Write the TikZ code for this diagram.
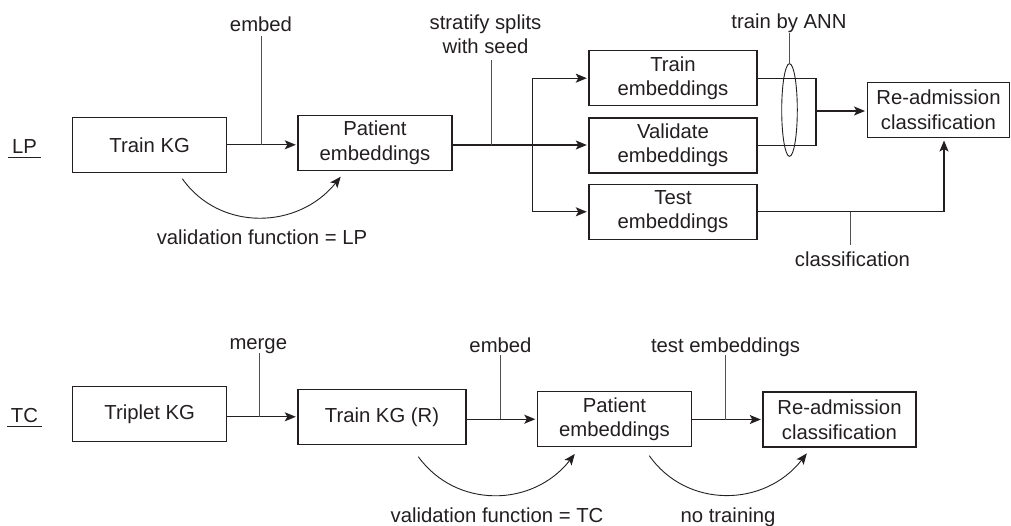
\documentclass[tikz,border=0pt]{standalone}
\usepackage{fontspec}
\setmainfont{Liberation Sans}
\usetikzlibrary{arrows.meta,calc,shapes.geometric}
\definecolor{ink}{HTML}{231F20}
\definecolor{leadc}{HTML}{505050}
\begin{document}
\begin{tikzpicture}[x=1pt,y=-1pt,
  every node/.style={font=\fontsize{20.3}{24.5}\selectfont, text=ink, inner sep=0pt},
  box/.style={draw=ink, line width=1.4pt, minimum height=55pt, align=center},
  arr/.style={draw=ink, line width=1.2pt, -{Stealth[length=11pt,width=9pt,inset=2.5pt]}, shorten >=1.5pt},
  conn/.style={draw=ink, line width=1.2pt},
  lead/.style={draw=leadc, line width=0.9pt},
  curv/.style={draw=ink, line width=0.9pt, -{Stealth[length=11pt,width=9pt,inset=2.5pt]}},
  lbl/.style={anchor=base},
  uline/.style={draw=ink, line width=1pt},
]
\useasboundingbox (0,0) rectangle (1011,526);

% ---------- LP row ----------
\node[lbl, inner xsep=3.5pt] (lp) at (24.5,154) {LP};
\draw[uline] ([yshift=-3.4pt]lp.base west) -- ([yshift=-3.4pt]lp.base east);

\node[box, minimum width=154pt] (trkg) at (149.7,144.8) {Train KG};
\node[box, minimum width=154pt] (pe1) at (375,142.8) {Patient\\embeddings};
\node[box, minimum width=168pt] (tre) at (673,78.2) {Train\\embeddings};
\node[box, minimum width=168pt] (vae) at (673,145.5) {Validate\\embeddings};
\node[box, minimum width=168pt] (tee) at (673,211.8) {Test\\embeddings};
\node[box, minimum width=142.5pt] (ra1) at (938.5,109.8) {Re-admission\\classification};

\node[lbl] (embed1) at (261,31.7) {embed};
\node[lbl, align=center] (strat) at (485.5,54) {stratify splits\\with seed};
\node[lbl] (annl) at (789,28.3) {train by ANN};
\node[lbl] (cls) at (852.5,266.7) {classification};
\node[lbl] (vallp) at (262,245) {validation function = LP};

\node[draw=ink, line width=0.9pt, ellipse, minimum width=15.6pt, minimum height=92.7pt] (ann) at (789.5,110) {};

\coordinate (e1) at (261.7,144.8);
\coordinate (b0) at (491,145);
\coordinate (b1) at (532.5,145);
\coordinate (m1) at (816,111);
\coordinate (c1) at (850,211.8);
\coordinate (r1) at (944,137.3);

\draw[arr] (trkg.east) -- (trkg.east -| pe1.west);
\draw[lead, shorten <=4pt] (e1 |- embed1.base) -- (e1);
\draw[conn] (pe1.east |- b1) -- (b1);
\draw[lead, shorten <=6pt] (b0 |- strat.base) -- (b0);
\draw[conn] (b1 |- tre.west) -- (b1 |- tee.west);
\draw[arr] (b1 |- tre.west) -- (tre.west);
\draw[arr] (b1) -- (b1 -| vae.west);
\draw[arr] (b1 |- tee.west) -- (tee.west);
\draw[conn] (tre.east) -| (m1) |- (vae.east);
\draw[arr] (m1) -- (m1 -| ra1.west);
\draw[lead, shorten <=4.7pt] (ann.north |- annl.base) -- (ann.north);
\draw[arr, shorten >=2.5pt] (tee.east) -| (r1 |- ra1.south);
\draw[lead, shorten >=7pt] (c1) -- (c1 |- cls.north);
\draw[curv] ($(trkg.south)+(32.6,5.7)$) .. controls ($(trkg.south)+(70,58.7)$) and ($(pe1.south)+(-77,58.7)$) .. ($(pe1.south)+(-34.3,5.7)$);

% ---------- TC row ----------
\node[lbl, inner xsep=3.5pt] (tc) at (24.5,422.7) {TC};
\draw[uline] ([yshift=-3.8pt]tc.base west) -- ([yshift=-3.8pt]tc.base east);

\node[box, minimum width=154pt] (trip) at (149.7,413.8) {Triplet KG};
\node[box, minimum width=168pt] (trkgR) at (382,416.8) {Train KG (R)};
\node[box, minimum width=154pt] (pe2) at (614.5,419.2) {Patient\\embeddings};
\node[box, minimum width=153pt] (ra2) at (839.5,419.5) {Re-admission\\classification};

\node[lbl] (merge) at (258.3,349.3) {merge};
\node[lbl] (embed2) at (500.5,352.7) {embed};
\node[lbl] (teste) at (725.5,352.3) {test embeddings};
\node[lbl] (valtc) at (497,522) {validation function = TC};
\node[lbl] (notr) at (728,522) {no training};

\coordinate (m2) at (259,416.8);
\coordinate (e2) at (500.3,419.2);
\coordinate (t2) at (725.5,419.5);

\draw[arr] (trkgR.west -| trip.east) -- (trkgR.west);
\draw[lead, shorten <=3.7pt] (m2 |- merge.base) -- (m2);
\draw[arr] (pe2.west -| trkgR.east) -- (pe2.west);
\draw[lead, shorten <=2.5pt] (e2 |- embed2.base) -- (e2);
\draw[arr] (ra2.west -| pe2.east) -- (ra2.west);
\draw[lead, shorten <=2.7pt] (t2 |- teste.base) -- (t2);

\draw[curv] ($(trkgR.south)+(36.3,11.7)$) .. controls ($(trkgR.south)+(74,63.7)$) and ($(pe2.south)+(-82,60.3)$) .. ($(pe2.south)+(-39.7,6.6)$);
\draw[curv] ($(pe2.south)+(34.8,8.3)$) .. controls ($(pe2.south)+(72,61.3)$) and ($(ra2.south)+(-75,60)$) .. ($(ra2.south)+(-32.7,5.7)$);
\end{tikzpicture}
\end{document}
